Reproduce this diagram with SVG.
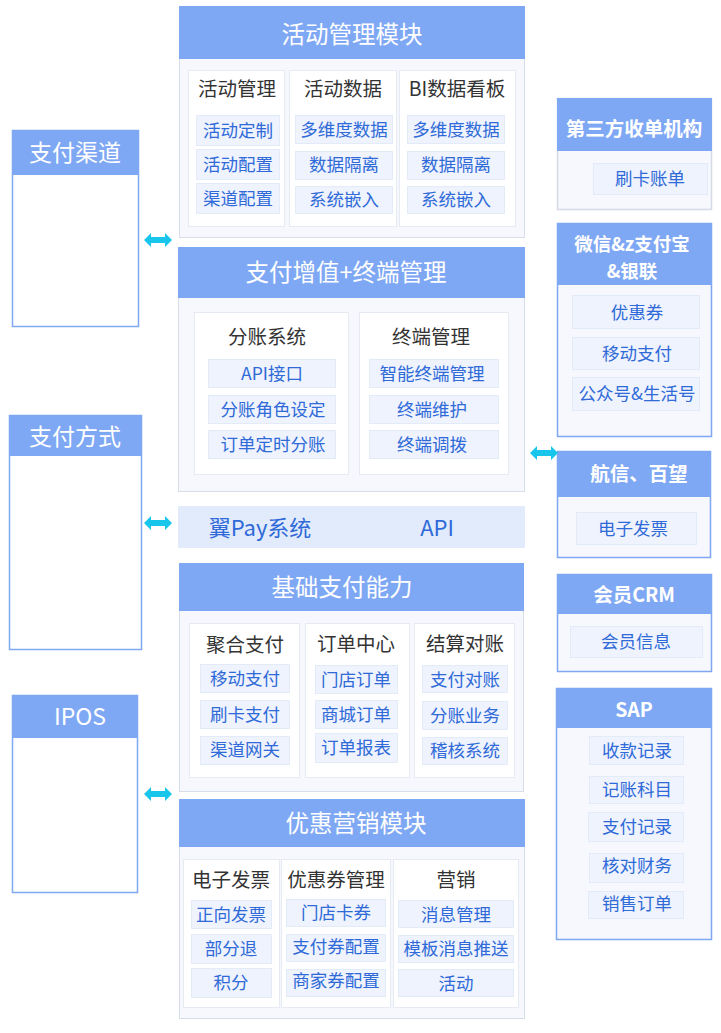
<svg xmlns="http://www.w3.org/2000/svg" xmlns:xlink="http://www.w3.org/1999/xlink" width="721" height="1033" viewBox="0 0 721 1033">
<defs>
<style>
text{font-family:"Noto Sans CJK SC","Noto Sans",sans-serif;text-anchor:middle;dominant-baseline:central}
.hdr{fill:#7fa8f4}
.body{fill:#f6f8fd;stroke:#d8dee9;stroke-width:1}
.col{fill:#fff;stroke:#e6ebf3;stroke-width:1}
.item{fill:#eef3fd;stroke:#e3eaf8;stroke-width:1}
.ht{fill:#fff;font-size:23.5px}
.ct{fill:#333;font-size:19.5px}
.it{fill:#2f6ad8;font-size:17.5px}
.side{fill:#fff;stroke:#7fa7f2;stroke-width:1.5}
.rbody{fill:#f6f8fe;stroke:#7fa7f2;stroke-width:1.5}
.rt{fill:#fff;font-size:19.5px;font-weight:bold}
.rt2{fill:#fff;font-size:18.5px;font-weight:bold}
.st{fill:#fff;font-size:23px}
.bar{fill:#e1ebfc}
.bt{fill:#2f6ad8;font-size:22px}
.arr{fill:#17c6ea}
</style>
<path id="dbl" d="M0,0 L7,-7 L7,-3 L21,-3 L21,-7 L28,0 L21,7 L21,3 L7,3 L7,7 Z"/>
</defs>
<rect width="721" height="1033" fill="#fff"/>

<!-- Module 1 -->
<g id="m1">
<rect class="body" x="179.5" y="6.5" width="345" height="231"/>
<rect class="hdr" x="179" y="6" width="346" height="53"/>
<text class="ht" x="352" y="33">活动管理模块</text>
<rect class="col" x="188.5" y="70.5" width="96" height="156"/>
<rect class="col" x="289.5" y="70.5" width="107" height="156"/>
<rect class="col" x="399.5" y="70.5" width="116" height="156"/>
<text class="ct" x="237" y="87">活动管理</text>
<text class="ct" x="343" y="87">活动数据</text>
<text class="ct" x="457" y="87">BI数据看板</text>
<rect class="item" x="196.5" y="115.5" width="83" height="30"/>
<rect class="item" x="196.5" y="149.5" width="83" height="30"/>
<rect class="item" x="196.5" y="183.5" width="83" height="30"/>
<text class="it" x="238" y="129">活动定制</text>
<text class="it" x="238" y="163">活动配置</text>
<text class="it" x="238" y="197">渠道配置</text>
<rect class="item" x="295.5" y="115.5" width="97" height="28"/>
<rect class="item" x="295.5" y="151.5" width="97" height="28"/>
<rect class="item" x="295.5" y="186.5" width="97" height="27"/>
<text class="it" x="344" y="128">多维度数据</text>
<text class="it" x="344" y="163">数据隔离</text>
<text class="it" x="344" y="198">系统嵌入</text>
<rect class="item" x="407.5" y="115.5" width="97" height="28"/>
<rect class="item" x="407.5" y="151.5" width="97" height="28"/>
<rect class="item" x="407.5" y="186.5" width="97" height="27"/>
<text class="it" x="456" y="128">多维度数据</text>
<text class="it" x="456" y="163">数据隔离</text>
<text class="it" x="456" y="198">系统嵌入</text>
</g>

<!-- Module 2 -->
<g id="m2">
<rect class="body" x="178.5" y="247.5" width="346" height="244"/>
<rect class="hdr" x="178" y="247" width="347" height="51"/>
<text class="ht" x="346" y="271">支付增值+终端管理</text>
<rect class="col" x="194.5" y="312.5" width="154" height="162"/>
<rect class="col" x="359.5" y="312.5" width="149" height="162"/>
<text class="ct" x="267" y="335">分账系统</text>
<text class="ct" x="431" y="335">终端管理</text>
<rect class="item" x="208.5" y="359.5" width="127" height="28"/>
<rect class="item" x="208.5" y="395.5" width="127" height="28"/>
<rect class="item" x="208.5" y="430.5" width="127" height="28"/>
<text class="it" x="272" y="372">API接口</text>
<text class="it" x="273" y="408">分账角色设定</text>
<text class="it" x="273" y="443">订单定时分账</text>
<rect class="item" x="369.5" y="359.5" width="129" height="28"/>
<rect class="item" x="369.5" y="395.5" width="129" height="28"/>
<rect class="item" x="369.5" y="430.5" width="129" height="28"/>
<text class="it" x="432" y="372">智能终端管理</text>
<text class="it" x="432" y="408">终端维护</text>
<text class="it" x="432" y="443">终端调拨</text>
</g>

<!-- Pay bar -->
<g id="paybar">
<rect class="bar" x="178" y="506" width="347" height="42"/>
<text class="bt" x="260" y="526">翼Pay系统</text>
<text class="bt" x="437" y="526">API</text>
</g>

<!-- Module 3 -->
<g id="m3">
<rect class="body" x="179.5" y="563.5" width="344" height="228"/>
<rect class="hdr" x="179" y="563" width="345" height="48"/>
<text class="ht" x="342" y="586">基础支付能力</text>
<rect class="col" x="189.5" y="623.5" width="110" height="154"/>
<rect class="col" x="305.5" y="623.5" width="104" height="154"/>
<rect class="col" x="414.5" y="623.5" width="100" height="154"/>
<text class="ct" x="245" y="643">聚合支付</text>
<text class="ct" x="356" y="642">订单中心</text>
<text class="ct" x="465" y="642">结算对账</text>
<rect class="item" x="200.5" y="664.5" width="89" height="28"/>
<rect class="item" x="200.5" y="700.5" width="89" height="28"/>
<rect class="item" x="200.5" y="736.5" width="89" height="28"/>
<text class="it" x="245" y="677">移动支付</text>
<text class="it" x="245" y="713">刷卡支付</text>
<text class="it" x="245" y="748">渠道网关</text>
<rect class="item" x="315.5" y="665.5" width="82" height="28"/>
<rect class="item" x="315.5" y="700.5" width="82" height="28"/>
<rect class="item" x="315.5" y="733.5" width="82" height="29"/>
<text class="it" x="356" y="678">门店订单</text>
<text class="it" x="356" y="713">商城订单</text>
<text class="it" x="356" y="746">订单报表</text>
<rect class="item" x="422.5" y="665.5" width="85" height="27"/>
<rect class="item" x="422.5" y="701.5" width="85" height="28"/>
<rect class="item" x="422.5" y="737.5" width="85" height="27"/>
<text class="it" x="465" y="678">支付对账</text>
<text class="it" x="465" y="714">分账业务</text>
<text class="it" x="465" y="749">稽核系统</text>
</g>

<!-- Module 4 -->
<g id="m4">
<rect class="body" x="179.5" y="799.5" width="345" height="219"/>
<rect class="hdr" x="179" y="799" width="346" height="48"/>
<text class="ht" x="356" y="822">优惠营销模块</text>
<rect class="col" x="183.5" y="859.5" width="96" height="148"/>
<rect class="col" x="281.5" y="859.5" width="109" height="148"/>
<rect class="col" x="393.5" y="859.5" width="125" height="148"/>
<text class="ct" x="231" y="878">电子发票</text>
<text class="ct" x="336" y="878">优惠券管理</text>
<text class="ct" x="456" y="878">营销</text>
<rect class="item" x="191.5" y="900.5" width="80" height="28"/>
<rect class="item" x="191.5" y="934.5" width="80" height="29"/>
<rect class="item" x="191.5" y="968.5" width="80" height="29"/>
<text class="it" x="231" y="913">正向发票</text>
<text class="it" x="231" y="947">部分退</text>
<text class="it" x="231" y="981">积分</text>
<rect class="item" x="286.5" y="899.5" width="99" height="27"/>
<rect class="item" x="286.5" y="934.5" width="99" height="27"/>
<rect class="item" x="286.5" y="969.5" width="99" height="27"/>
<text class="it" x="336" y="911">门店卡券</text>
<text class="it" x="336" y="945">支付券配置</text>
<text class="it" x="336" y="979">商家券配置</text>
<rect class="item" x="398.5" y="900.5" width="115" height="27"/>
<rect class="item" x="398.5" y="935.5" width="115" height="27"/>
<rect class="item" x="398.5" y="969.5" width="115" height="27"/>
<text class="it" x="456" y="913">消息管理</text>
<text class="it" x="456" y="947">模板消息推送</text>
<text class="it" x="456" y="982">活动</text>
</g>

<!-- Left side boxes -->
<g id="zfqd">
<rect class="side" x="12.5" y="130.5" width="126" height="196"/>
<rect class="hdr" x="12" y="130" width="127" height="45"/>
<text class="st" x="75" y="151">支付渠道</text>
</g>
<g id="zffs">
<rect class="side" x="9.5" y="415.5" width="132" height="234"/>
<rect class="hdr" x="9" y="415" width="133" height="41"/>
<text class="st" x="75" y="435">支付方式</text>
</g>
<g id="ipos">
<rect class="side" x="12.5" y="695.5" width="125" height="197"/>
<rect class="hdr" x="12" y="695" width="126" height="43"/>
<text class="st" x="80" y="715">IPOS</text>
</g>

<!-- Right side boxes -->
<g id="dsf">
<rect class="rbody" x="557.5" y="98.5" width="154" height="111" style="stroke:#d5dbe6"/>
<rect class="hdr" x="557" y="98" width="155" height="53"/>
<text class="rt" x="634" y="127">第三方收单机构</text>
<rect class="item" x="593.5" y="163.5" width="114" height="31"/>
<text class="it" x="650" y="177">刷卡账单</text>
</g>
<g id="wx">
<rect class="rbody" x="557.5" y="223.5" width="154" height="213"/>
<rect class="hdr" x="557" y="223" width="155" height="62"/>
<text class="rt2" x="632" y="243">微信&amp;z支付宝</text>
<text class="rt2" x="632" y="270">&amp;银联</text>
<rect class="item" x="572.5" y="295.5" width="127" height="33"/>
<rect class="item" x="572.5" y="337.5" width="127" height="32"/>
<rect class="item" x="572.5" y="377.5" width="127" height="33"/>
<text class="it" x="637" y="311">优惠券</text>
<text class="it" x="637" y="352">移动支付</text>
<text class="it" x="637" y="392">公众号&amp;生活号</text>
</g>
<g id="hx">
<rect class="rbody" x="557.5" y="451.5" width="153" height="106"/>
<rect class="hdr" x="557" y="451" width="154" height="46"/>
<text class="rt" x="639" y="472">航信、百望</text>
<rect class="item" x="576.5" y="512.5" width="120" height="32"/>
<text class="it" x="633" y="527">电子发票</text>
</g>
<g id="crm">
<rect class="rbody" x="557.5" y="574.5" width="154" height="97"/>
<rect class="hdr" x="557" y="574" width="155" height="40"/>
<text class="rt" x="634" y="593">会员CRM</text>
<rect class="item" x="570.5" y="626.5" width="132" height="31"/>
<text class="it" x="636" y="640">会员信息</text>
</g>
<g id="sap">
<rect class="rbody" x="556.5" y="688.5" width="155" height="251"/>
<rect class="hdr" x="556" y="688" width="156" height="40"/>
<text class="rt" x="634" y="708">SAP</text>
<rect class="item" x="589.5" y="736.5" width="94" height="28"/>
<rect class="item" x="589.5" y="776.5" width="94" height="27"/>
<rect class="item" x="588.5" y="812.5" width="95" height="29"/>
<rect class="item" x="589.5" y="853.5" width="94" height="29"/>
<rect class="item" x="588.5" y="891.5" width="95" height="27"/>
<text class="it" x="637" y="749">收款记录</text>
<text class="it" x="637" y="788">记账科目</text>
<text class="it" x="637" y="825">支付记录</text>
<text class="it" x="637" y="864">核对财务</text>
<text class="it" x="637" y="902">销售订单</text>
</g>

<!-- Connectors -->
<g id="connectors" class="arr">
<use xlink:href="#dbl" href="#dbl" x="144" y="240"/>
<use xlink:href="#dbl" href="#dbl" x="144" y="523"/>
<use xlink:href="#dbl" href="#dbl" x="144" y="794"/>
<use xlink:href="#dbl" href="#dbl" x="530" y="453"/>
</g>
</svg>
